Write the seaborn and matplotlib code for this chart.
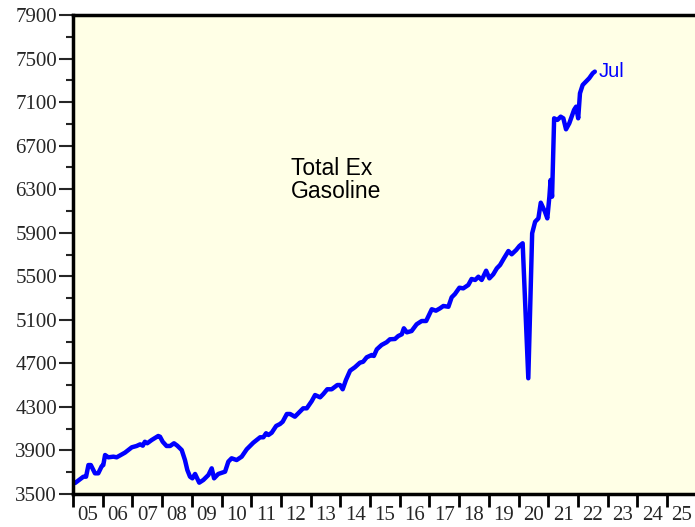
import numpy as np
import pandas as pd
import matplotlib
matplotlib.use("Agg")
import matplotlib.pyplot as plt
import seaborn as sns

# Data (fractional year, value)
years = [2005.01, 2005.07, 2005.35, 2005.44, 2005.52, 2005.60, 2005.74, 2005.85, 2005.97,
         2006.02, 2006.08, 2006.19, 2006.36, 2006.47, 2006.75, 2006.98,
         2007.14, 2007.26, 2007.35, 2007.42, 2007.50, 2007.65, 2007.87, 2007.93,
         2008.02, 2008.15, 2008.27, 2008.40, 2008.51, 2008.66, 2008.77, 2008.85, 2008.94,
         2009.02, 2009.11, 2009.25, 2009.39, 2009.56, 2009.67, 2009.75, 2009.89,
         2010.12, 2010.23, 2010.34, 2010.51, 2010.68, 2010.85,
         2011.07, 2011.30, 2011.41, 2011.50, 2011.58, 2011.69, 2011.84, 2011.97,
         2012.06, 2012.20, 2012.31, 2012.47, 2012.64, 2012.75, 2012.87,
         2013.04, 2013.15, 2013.32, 2013.43, 2013.56, 2013.71, 2013.90, 2013.99,
         2014.08, 2014.19, 2014.33, 2014.49, 2014.66, 2014.77, 2014.89,
         2015.06, 2015.13, 2015.23, 2015.39, 2015.56, 2015.67, 2015.84, 2015.95,
         2016.07, 2016.14, 2016.24, 2016.40, 2016.57, 2016.74, 2016.89,
         2017.08, 2017.22, 2017.36, 2017.47, 2017.64, 2017.75, 2017.86,
         2018.01, 2018.14, 2018.31, 2018.42, 2018.54, 2018.65, 2018.76, 2018.91,
         2019.02, 2019.15, 2019.27, 2019.38, 2019.51, 2019.66, 2019.77, 2019.92,
         2020.03, 2020.14, 2020.33, 2020.46, 2020.56, 2020.67, 2020.75, 2020.84, 2020.89, 2020.97,
         2021.04, 2021.08, 2021.13, 2021.20, 2021.31, 2021.42, 2021.51, 2021.60, 2021.71, 2021.87, 2021.94,
         2022.01, 2022.07, 2022.16, 2022.27, 2022.38, 2022.50, 2022.57]
values = [3613, 3601, 3659, 3659, 3766, 3766, 3690, 3690, 3757,
          3766, 3858, 3837, 3843, 3837, 3880, 3929,
          3941, 3956, 3944, 3980, 3966, 3996, 4033, 4026,
          3980, 3941, 3941, 3966, 3944, 3904, 3812, 3720, 3659,
          3644, 3684, 3604, 3629, 3675, 3736, 3644, 3684,
          3705, 3797, 3828, 3812, 3843, 3911,
          3971, 4021, 4021, 4058, 4042, 4063, 4125, 4143,
          4164, 4235, 4235, 4210, 4256, 4287, 4287,
          4354, 4409, 4388, 4419, 4462, 4462, 4501, 4501,
          4462, 4547, 4633, 4664, 4706, 4715, 4756,
          4777, 4768, 4829, 4869, 4894, 4921, 4924, 4951,
          4967, 5022, 4985, 4997, 5059, 5089, 5089,
          5197, 5184, 5206, 5227, 5220, 5307, 5337,
          5395, 5389, 5420, 5475, 5466, 5496, 5466, 5551,
          5481, 5518, 5573, 5604, 5665, 5732, 5702, 5741,
          5778, 5803, 4563, 5895, 6001, 6032, 6176, 6124, 6093, 6032,
          6231, 6384, 6231, 6951, 6936, 6966, 6951, 6850, 6905, 7028, 7058,
          6951, 7181, 7257, 7288, 7319, 7365, 7380]

year_labels = ["%02d" % (y % 100) for y in range(2005, 2026)]
y_major = list(range(3500, 7901, 400))
y_minor = list(range(3700, 7900, 400))

df = pd.DataFrame({"year": years, "value": values})

sns.set_style("ticks")
plt.rcParams["font.family"] = ["Liberation Serif", "DejaVu Serif"]

fig = plt.figure(figsize=(6.95, 5.27), dpi=100)
ax = fig.add_axes([73 / 695, 1 - 494 / 527, 1 - 73 / 695, (494 - 15) / 527])
ax.set_facecolor("#ffffe6")

sns.lineplot(data=df, x="year", y="value", ax=ax, color="#0000ff", linewidth=3.2)

ax.set_xlim(2005, 2005 + (695 - 73) / 29.7)
ax.set_ylim(3500, 7900)

# x axis: ticks at year boundaries, labels centered in each year
ax.set_xticks(range(2005, 2026))
ax.set_xticklabels([])
ax.set_xticks([y + 0.5 for y in range(2005, 2026)], minor=True)
ax.set_xticklabels(year_labels, minor=True)
ax.tick_params(axis="x", which="major", direction="out", length=9, width=2, color="black")
ax.tick_params(axis="x", which="minor", length=0, pad=9, labelsize=15)

# y axis
ax.set_yticks(y_major)
ax.set_yticks(y_minor, minor=True)
ax.tick_params(axis="y", which="major", direction="out", length=10, width=1.5, pad=1.5, labelsize=15)
ax.tick_params(axis="y", which="minor", direction="out", length=5, width=1.5)

for s in ["left", "bottom", "top"]:
    ax.spines[s].set_linewidth(2.5)
    ax.spines[s].set_color("black")
ax.spines["right"].set_visible(False)

ax.set_xlabel("")
ax.set_ylabel("")

ax.text(2012.33, 6600, "Total Ex\nGasoline", fontsize=16.5, family=["Liberation Sans", "DejaVu Sans"],
        va="top", ha="left", linespacing=1.02, color="black")
ax.annotate("Jul", xy=(years[-1], values[-1]), xytext=(3, 0), textcoords="offset points",
            fontsize=14.5, family=["Liberation Sans", "DejaVu Sans"], color="#0000ff",
            va="center", ha="left")

plt.savefig("out.png", dpi=100)
